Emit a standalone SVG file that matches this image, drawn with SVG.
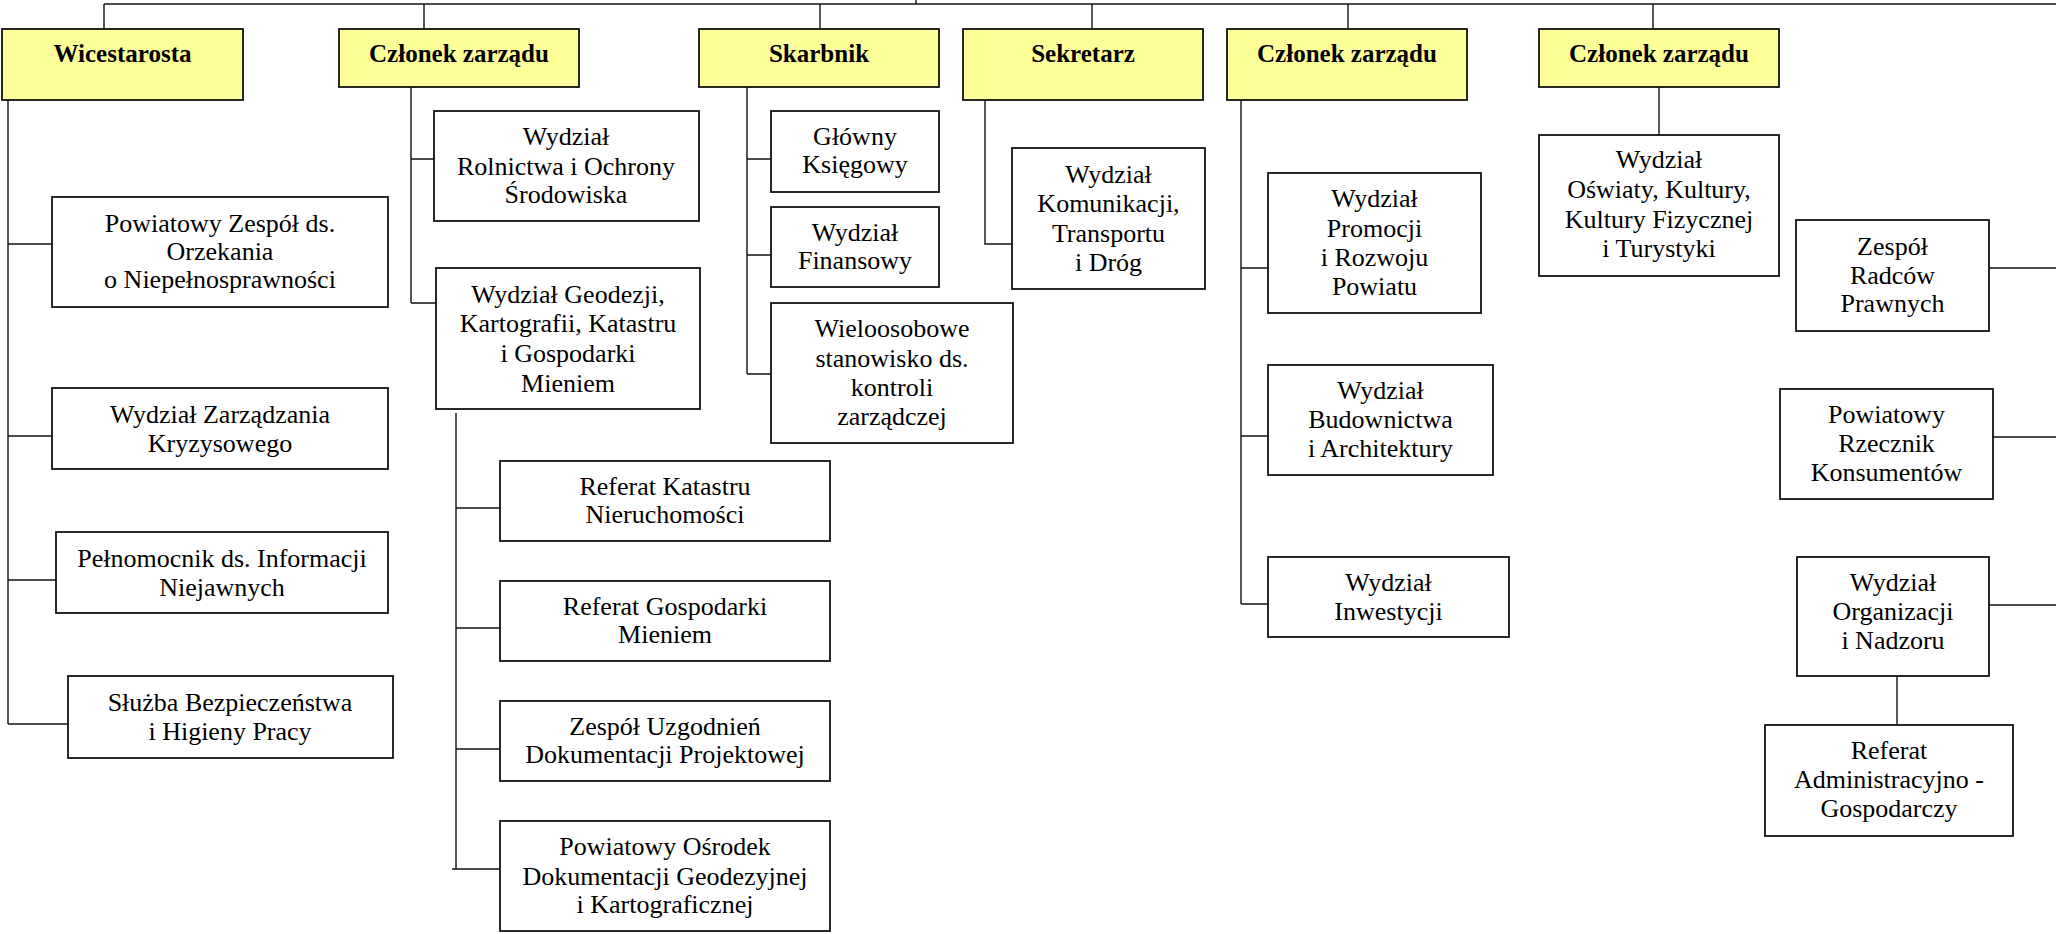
<svg xmlns="http://www.w3.org/2000/svg" width="2056" height="934" viewBox="0 0 2056 934">
<style>
.head rect{fill:#FFFF99;stroke:#111;stroke-width:1.8}
.box rect{fill:#fff;stroke:#111;stroke-width:1.8}
.head text{font-family:"Liberation Serif","Times New Roman",serif;font-weight:bold;font-size:25px;fill:#000;text-anchor:middle}
.box text{font-family:"Liberation Serif","Times New Roman",serif;font-size:26px;fill:#000;text-anchor:middle}
#connectors path{fill:none;stroke:#111;stroke-width:1.4}
</style>
<rect width="2056" height="934" fill="#fff"/>
<g id="connectors">
<path d="M104 4H2056M916 0V4M104 4V29M424 4V29M820 4V29M1092 4V29M1348 4V29M1653 4V29"/>
<path d="M8 100V724M8 244H52M8 436H52M8 580H56M8 724H68"/>
<path d="M411 87V303M411 159H434M411 303H436"/>
<path d="M456 413V869M456 508H500M456 628H500M456 749H500M452 869H500"/>
<path d="M747 87V374M747 159H771M747 255H771M747 374H771"/>
<path d="M985 100V244H1017"/>
<path d="M1241 100V604M1241 268H1273M1241 436H1268M1241 604H1273"/>
<path d="M1659 87V135"/>
<path d="M1989 268H2056M1993 437H2056M1989 605H2056"/>
<path d="M1897 676V725"/>
</g>
<g id="wicestarosta" class="head"><rect x="2" y="29" width="241" height="71"/><text x="122.5" y="62">Wicestarosta</text></g>
<g id="czlonek1" class="head"><rect x="339" y="29" width="240" height="58"/><text x="459" y="62">Członek zarządu</text></g>
<g id="skarbnik" class="head"><rect x="699" y="29" width="240" height="58"/><text x="819" y="62">Skarbnik</text></g>
<g id="sekretarz" class="head"><rect x="963" y="29" width="240" height="71"/><text x="1083" y="62">Sekretarz</text></g>
<g id="czlonek2" class="head"><rect x="1227" y="29" width="240" height="71"/><text x="1347" y="62">Członek zarządu</text></g>
<g id="czlonek3" class="head"><rect x="1539" y="29" width="240" height="58"/><text x="1659" y="62">Członek zarządu</text></g>

<g id="orzekanie" class="box"><rect x="52" y="197" width="336" height="110"/><text x="220" y="232">Powiatowy Zespół ds.</text><text x="220" y="260">Orzekania</text><text x="220" y="288">o Niepełnosprawności</text></g>
<g id="kryzys" class="box"><rect x="52" y="388" width="336" height="81"/><text x="220" y="423">Wydział Zarządzania</text><text x="220" y="452">Kryzysowego</text></g>
<g id="pelnomocnik" class="box"><rect x="56" y="532" width="332" height="81"/><text x="222" y="567">Pełnomocnik ds. Informacji</text><text x="222" y="596">Niejawnych</text></g>
<g id="bhp" class="box"><rect x="68" y="676" width="325" height="82"/><text x="230" y="711">Służba Bezpieczeństwa</text><text x="230" y="740">i Higieny Pracy</text></g>

<g id="rolnictwo" class="box"><rect x="434" y="111" width="265" height="110"/><text x="566" y="145">Wydział</text><text x="566" y="175">Rolnictwa i Ochrony</text><text x="566" y="203">Środowiska</text></g>
<g id="geodezja" class="box"><rect x="436" y="268" width="264" height="141"/><text x="568" y="303">Wydział Geodezji,</text><text x="568" y="332">Kartografii, Katastru</text><text x="568" y="362">i Gospodarki</text><text x="568" y="392">Mieniem</text></g>
<g id="kataster" class="box"><rect x="500" y="461" width="330" height="80"/><text x="665" y="495">Referat Katastru</text><text x="665" y="523">Nieruchomości</text></g>
<g id="mienie" class="box"><rect x="500" y="581" width="330" height="80"/><text x="665" y="615">Referat Gospodarki</text><text x="665" y="643">Mieniem</text></g>
<g id="uzgodnienia" class="box"><rect x="500" y="701" width="330" height="80"/><text x="665" y="735">Zespół Uzgodnień</text><text x="665" y="763">Dokumentacji Projektowej</text></g>
<g id="osrodek" class="box"><rect x="500" y="821" width="330" height="110"/><text x="665" y="855">Powiatowy Ośrodek</text><text x="665" y="885">Dokumentacji Geodezyjnej</text><text x="665" y="913">i Kartograficznej</text></g>

<g id="ksiegowy" class="box"><rect x="771" y="111" width="168" height="81"/><text x="855" y="145">Główny</text><text x="855" y="173">Księgowy</text></g>
<g id="finanse" class="box"><rect x="771" y="207" width="168" height="80"/><text x="855" y="241">Wydział</text><text x="855" y="269">Finansowy</text></g>
<g id="kontrola" class="box"><rect x="771" y="303" width="242" height="140"/><text x="892" y="337">Wieloosobowe</text><text x="892" y="367">stanowisko ds.</text><text x="892" y="396">kontroli</text><text x="892" y="425">zarządczej</text></g>

<g id="komunikacja" class="box"><rect x="1012" y="148" width="193" height="141"/><text x="1108.5" y="183">Wydział</text><text x="1108.5" y="212">Komunikacji,</text><text x="1108.5" y="242">Transportu</text><text x="1108.5" y="271">i Dróg</text></g>

<g id="promocja" class="box"><rect x="1268" y="173" width="213" height="140"/><text x="1374.5" y="207">Wydział</text><text x="1374.5" y="237">Promocji</text><text x="1374.5" y="266">i Rozwoju</text><text x="1374.5" y="295">Powiatu</text></g>
<g id="budownictwo" class="box"><rect x="1268" y="365" width="225" height="110"/><text x="1380.5" y="399">Wydział</text><text x="1380.5" y="428">Budownictwa</text><text x="1380.5" y="457">i Architektury</text></g>
<g id="inwestycje" class="box"><rect x="1268" y="557" width="241" height="80"/><text x="1388.5" y="591">Wydział</text><text x="1388.5" y="620">Inwestycji</text></g>

<g id="oswiata" class="box"><rect x="1539" y="135" width="240" height="141"/><text x="1659" y="168">Wydział</text><text x="1659" y="198">Oświaty, Kultury,</text><text x="1659" y="228">Kultury Fizycznej</text><text x="1659" y="257">i Turystyki</text></g>

<g id="radcy" class="box"><rect x="1796" y="220" width="193" height="111"/><text x="1892.5" y="255">Zespół</text><text x="1892.5" y="284">Radców</text><text x="1892.5" y="312">Prawnych</text></g>
<g id="rzecznik" class="box"><rect x="1780" y="389" width="213" height="110"/><text x="1886.5" y="423">Powiatowy</text><text x="1886.5" y="452">Rzecznik</text><text x="1886.5" y="481">Konsumentów</text></g>
<g id="organizacja" class="box"><rect x="1797" y="557" width="192" height="119"/><text x="1893" y="591">Wydział</text><text x="1893" y="620">Organizacji</text><text x="1893" y="649">i Nadzoru</text></g>
<g id="administracja" class="box"><rect x="1765" y="725" width="248" height="111"/><text x="1889" y="759">Referat</text><text x="1889" y="788">Administracyjno -</text><text x="1889" y="817">Gospodarczy</text></g>
</svg>
